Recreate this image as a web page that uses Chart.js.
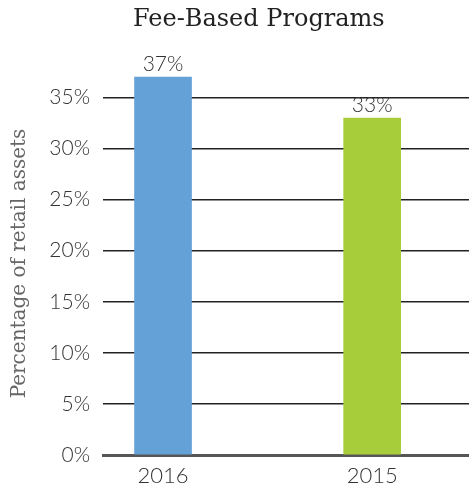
<!DOCTYPE html>
<html>
<head>
<meta charset="utf-8">
<script src="https://cdn.jsdelivr.net/npm/chart.js@4"></script>
<style>
  html, body { margin: 0; padding: 0; background: #fff; }
  #wrap { position: relative; width: 469px; height: 487px; }
  #title {
    position: absolute; top: 4px; left: 133px;
    font-family: "DejaVu Serif", serif; font-size: 24px; color: #222;
    white-space: nowrap;
  }
</style>
</head>
<body>
<div id="wrap">
  <div id="title">Fee-Based Programs</div>
  <canvas id="feeChart" width="469" height="487"></canvas>
</div>
<script>
// values
var years = ['2016', '2015'];
var retailShare = [37, 33];
var barColors = ['#63a1d7', '#a7cd3a'];
var yTickValues = [0, 5, 10, 15, 20, 25, 30, 35];

var lightFont = "Lato";

// prints the value above each bar
var valueLabels = {
  id: 'valueLabels',
  afterDatasetsDraw: function(chart) {
    var ctx = chart.ctx;
    var meta = chart.getDatasetMeta(0);
    ctx.save();
    ctx.font = '300 21px ' + lightFont;
    ctx.fillStyle = '#333';
    ctx.textAlign = 'center';
    ctx.textBaseline = 'bottom';
    meta.data.forEach(function(bar, i) {
      ctx.fillText(retailShare[i] + '%', bar.x, bar.y - 2);
    });
    ctx.restore();
  }
};

var points = years.map(function(y, i) { return { x: i, y: retailShare[i] }; });

new Chart(document.getElementById('feeChart'), {
  type: 'bar',
  data: {
    datasets: [{
      data: points,
      backgroundColor: barColors,
      borderWidth: 0,
      barThickness: 57
    }]
  },
  options: {
    responsive: false,
    animation: false,
    layout: { padding: { top: 72, right: 0, left: 0, bottom: 0 } },
    plugins: {
      legend: { display: false },
      tooltip: { enabled: false },
      title: { display: false }
    },
    scales: {
      x: {
        type: 'linear',
        offset: false,
        min: -0.287,
        max: 1.463,
        afterBuildTicks: function(scale) {
          scale.ticks = years.map(function(y, i) { return { value: i }; });
        },
        afterFit: function(scale) { scale.height = 32; },
        ticks: {
          callback: function(v) { return years[v]; },
          font: { family: lightFont, size: 22, weight: 300 },
          color: '#333',
          padding: 0
        },
        grid: { display: false, offset: false },
        border: { display: true, color: '#555', width: 3 }
      },
      y: {
        min: 0,
        max: 37.5,
        afterBuildTicks: function(scale) {
          scale.ticks = yTickValues.map(function(v) { return { value: v }; });
        },
        afterFit: function(scale) { scale.width = 103; },
        ticks: {
          callback: function(v) { return v + '%'; },
          font: { family: lightFont, size: 21, weight: 300 },
          color: '#333',
          padding: 13
        },
        grid: { color: '#222', lineWidth: 1.5, drawTicks: false },
        border: { display: false },
        title: {
          display: true,
          text: 'Percentage of retail assets',
          font: { family: 'DejaVu Serif', size: 20, weight: 300 },
          color: '#666',
          padding: { top: 8, bottom: 0 }
        }
      }
    }
  },
  plugins: [valueLabels]
});
</script>
</body>
</html>
